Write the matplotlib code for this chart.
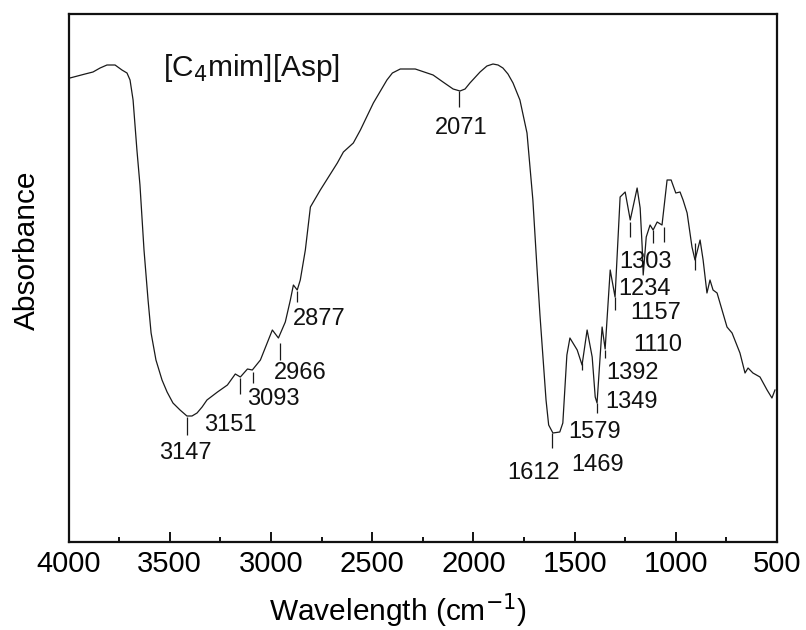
import matplotlib
matplotlib.use("Agg")
import matplotlib.pyplot as plt
from matplotlib.ticker import MultipleLocator

plt.rcParams['font.family'] = ['Liberation Sans', 'DejaVu Sans']

# ---- data ----
wavenumber = [4000, 3993, 3918, 3879, 3844, 3810, 3770, 3736, 3711, 3696, 3681, 3662, 3647, 3627,
              3607, 3592, 3568, 3538, 3513, 3484, 3449, 3415, 3390, 3365, 3340, 3316, 3264, 3215,
              3176, 3151, 3116, 3092, 3052, 2993, 2963, 2929, 2904, 2889, 2870, 2855, 2830, 2805,
              2756, 2672, 2642, 2593, 2558, 2494, 2427, 2400, 2361, 2287, 2199, 2150, 2100, 2066,
              2041, 2017, 1967, 1933, 1903, 1878, 1854, 1829, 1804, 1770, 1735, 1706, 1686, 1671,
              1641, 1628, 1607, 1573, 1558, 1538, 1523, 1487, 1463, 1438, 1413, 1398, 1389, 1364,
              1349, 1324, 1300, 1275, 1250, 1225, 1191, 1176, 1166, 1161, 1146, 1127, 1112, 1092,
              1068, 1043, 1023, 1000, 979, 964, 944, 920, 905, 880, 865, 846, 831, 816, 796, 747,
              722, 683, 658, 643, 619, 584, 549, 525, 510]
absorbance = [4.66, 4.64, 4.68, 4.70, 4.74, 4.77, 4.77, 4.72, 4.69, 4.62, 4.42, 3.92, 3.57, 2.92,
              2.42, 2.09, 1.82, 1.62, 1.50, 1.39, 1.32, 1.26, 1.26, 1.29, 1.35, 1.42, 1.50, 1.57,
              1.68, 1.65, 1.73, 1.72, 1.82, 2.12, 2.04, 2.20, 2.42, 2.57, 2.52, 2.62, 2.92, 3.35,
              3.52, 3.79, 3.90, 3.99, 4.12, 4.39, 4.62, 4.69, 4.73, 4.73, 4.67, 4.60, 4.53, 4.51,
              4.53, 4.59, 4.70, 4.76, 4.78, 4.77, 4.74, 4.68, 4.59, 4.42, 4.09, 3.42, 2.75, 2.27,
              1.42, 1.17, 1.09, 1.10, 1.19, 1.87, 2.04, 1.92, 1.77, 2.12, 1.85, 1.45, 1.39, 2.15,
              1.93, 2.72, 2.45, 3.45, 3.50, 3.22, 3.54, 3.34, 2.95, 2.67, 3.05, 3.17, 3.12, 3.20,
              3.17, 3.62, 3.62, 3.49, 3.50, 3.42, 3.29, 2.95, 2.82, 3.02, 2.82, 2.49, 2.62, 2.52,
              2.49, 2.15, 2.09, 1.89, 1.69, 1.74, 1.69, 1.65, 1.52, 1.44, 1.52]

# peak marker lines: position, upper end, lower end
marker_wn = [3413, 3151, 3090, 2957, 2870, 2070, 1611, 1463, 1389, 1349, 1300, 1225, 1112, 1058, 905]
marker_top = [1.25, 1.64, 1.70, 1.99, 2.51, 4.51, 1.09, 1.79, 1.39, 1.92, 2.45, 3.20, 3.12, 3.15, 2.99]
marker_bot = [1.07, 1.48, 1.59, 1.82, 2.40, 4.35, 0.94, 1.72, 1.29, 1.84, 2.32, 3.05, 2.99, 3.00, 2.72]

peak_labels = ["3147", "3151", "3093", "2966", "2877", "2071", "1612", "1579", "1469",
               "1392", "1349", "1303", "1234", "1157", "1110"]
sample_name = r"[C$_4$mim][Asp]"
x_ticks = [4000, 3500, 3000, 2500, 2000, 1500, 1000, 500]

# ---- layout (label positions in data coords) ----
label_pos = [(3424, 0.89), (3202, 1.17), (2990, 1.43), (2856, 1.69), (2763, 2.23),
             (2061, 4.14), (1705, 0.69), (1399, 1.10), (1384, 0.77), (1216, 1.69),
             (1221, 1.40), (1152, 2.80), (1157, 2.53), (1098, 2.29), (1088, 1.97)]

W, H = 806, 630
fig = plt.figure(figsize=(W / 100, H / 100), dpi=100)
ax = fig.add_axes([68.5 / W, 1 - 542 / H, (777 - 68.5) / W, (542 - 14) / H])

ax.plot(wavenumber, absorbance, color='#1a1a1a', lw=0.9)
ax.vlines(marker_wn, marker_bot, marker_top, color='#1a1a1a', lw=0.9)
for t, (x, y) in zip(peak_labels, label_pos):
    ax.text(x, y, t, fontsize=17, ha='center', va='center', color='#111111')
ax.text(3098, 4.74, sample_name, fontsize=21.5, ha='center', va='center', color='#111111')

ax.set_xlim(4000, 500)
ax.set_ylim(0, 5.28)
ax.set_xticks(x_ticks)
ax.xaxis.set_minor_locator(MultipleLocator(250))
ax.set_yticks([])
ax.tick_params(axis='x', which='major', direction='in', length=7.5, width=1.3,
               labelsize=21, pad=6, top=False)
ax.tick_params(axis='x', which='minor', direction='in', length=3.5, width=1.3, top=False)
for s in ax.spines.values():
    s.set_linewidth(1.6)
    s.set_color('#111111')

fig.text(398 / W, 1 - 611 / H, r"Wavelength (cm$^{-1}$)", fontsize=21.5, ha='center', va='center')
fig.text(27 / W, 1 - 250 / H, "Absorbance", fontsize=21.5, ha='center', va='center', rotation=90)

fig.savefig("out.png", dpi=100)
